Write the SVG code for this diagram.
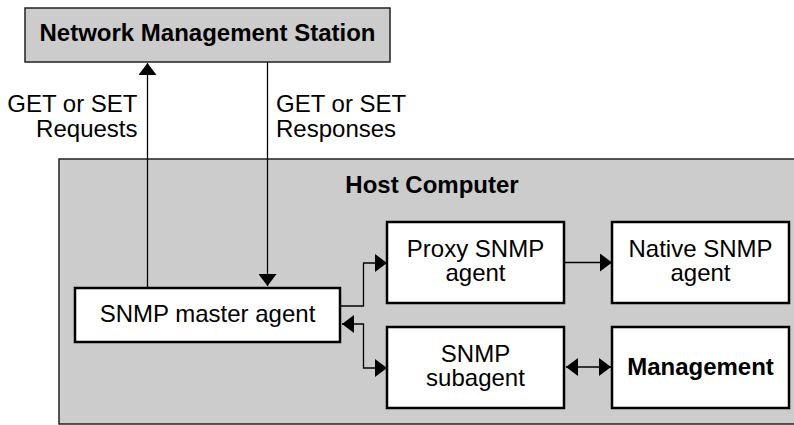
<svg xmlns="http://www.w3.org/2000/svg" width="794" height="425" viewBox="0 0 794 425">
  <style>
    .txt { font-family: "Liberation Sans", Arial, sans-serif; font-size: 24px; fill: #000; }
    .bold { font-weight: bold; }
    .mid { text-anchor: middle; }
    .end { text-anchor: end; }
    .gray { fill: #cccccc; stroke: #222; stroke-width: 1.5; }
    .box { fill: #ffffff; stroke: #000; stroke-width: 2.5; }
    .conn { fill: none; stroke: #000; stroke-width: 1.3; }
  </style>
  <defs>
    <marker id="arrow" markerUnits="userSpaceOnUse" markerWidth="12" markerHeight="18" refX="12" refY="9" orient="auto-start-reverse">
      <path d="M0,0 L12,9 L0,18 z" fill="#000"/>
    </marker>
  </defs>

  <!-- Host computer container -->
  <g id="host">
    <rect class="gray" x="59" y="159" width="760" height="265"/>
    <text class="txt bold mid" x="432" y="193">Host Computer</text>
  </g>

  <!-- Management station -->
  <g id="nms">
    <rect class="gray" x="25" y="8" width="365" height="54"/>
    <text class="txt bold mid" x="207.5" y="41">Network Management Station</text>
  </g>

  <g id="master">
    <rect class="box" x="75" y="288" width="265" height="54"/>
    <text class="txt mid" x="207.5" y="322">SNMP master agent</text>
  </g>

  <g id="proxy">
    <rect class="box" x="387" y="222" width="177" height="81"/>
    <text class="txt mid" x="475.5" y="257">Proxy SNMP</text>
    <text class="txt mid" x="475.5" y="281">agent</text>
  </g>

  <g id="native">
    <rect class="box" x="612" y="222" width="177" height="81"/>
    <text class="txt mid" x="700.5" y="257">Native SNMP</text>
    <text class="txt mid" x="700.5" y="281">agent</text>
  </g>

  <g id="subagent">
    <rect class="box" x="387" y="327" width="177" height="81"/>
    <text class="txt mid" x="475.5" y="362">SNMP</text>
    <text class="txt mid" x="475.5" y="386">subagent</text>
  </g>

  <g id="management">
    <rect class="box" x="612" y="327" width="177" height="81"/>
    <text class="txt bold mid" x="700.5" y="375">Management</text>
  </g>

  <!-- Connectors -->
  <g id="connectors">
    <path class="conn" d="M147.5,288 V63" marker-end="url(#arrow)"/>
    <path class="conn" d="M267.5,62 V286" marker-end="url(#arrow)"/>
    <path class="conn" d="M340,306 H363.5 V263 H387" marker-end="url(#arrow)"/>
    <path class="conn" d="M342,324 H363.5 V368 H387" marker-start="url(#arrow)" marker-end="url(#arrow)"/>
    <path class="conn" d="M564,262.5 H612" marker-end="url(#arrow)"/>
    <path class="conn" d="M566,367 H611" marker-start="url(#arrow)" marker-end="url(#arrow)"/>
  </g>

  <!-- Connector labels -->
  <g id="labels">
    <text class="txt end" x="137.5" y="112">GET or SET</text>
    <text class="txt end" x="137.5" y="137">Requests</text>
    <text class="txt" x="276" y="112">GET or SET</text>
    <text class="txt" x="276" y="137">Responses</text>
  </g>
</svg>
